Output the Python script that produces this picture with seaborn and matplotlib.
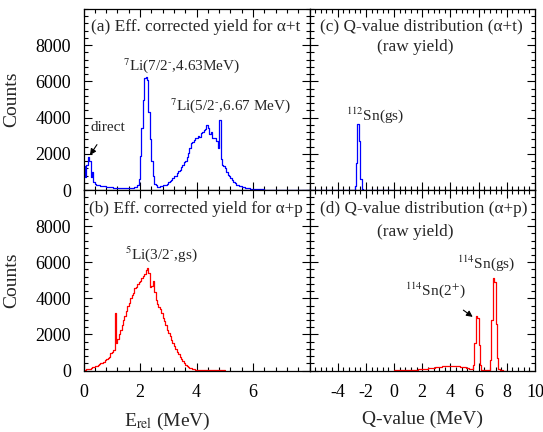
import numpy as np
import pandas as pd
import matplotlib
matplotlib.use('Agg')
import matplotlib.pyplot as plt
from matplotlib.ticker import MultipleLocator
import seaborn as sns

# ── DATA ──────────────────────────────────────────────────────────────────────
# relative energy spectra, 0.05 MeV bins starting at 0
E_BIN = 0.05
at_counts = [
    1300, 700, 1400, 1800, 1600, 700, 1000, 450, 350, 300, 280, 250, 230, 220, 240, 210, 190, 170, 160, 150,
    140, 130, 120, 110, 120, 100, 100, 90, 100, 90, 100, 110, 100, 120, 110, 130, 140, 160, 250, 600,
    1900, 3400, 5000, 6200, 6250, 6050, 4300, 2800, 1600, 800, 350, 250, 180, 170, 200, 220, 250, 260, 300, 350,
    420, 470, 550, 650, 750, 800, 950, 1050, 1100, 1250, 1400, 1550, 1600, 1800, 2050, 2300, 2600, 2650, 2750, 2850,
    2900, 3000, 2950, 3150, 3200, 3300, 3350, 3600, 3450, 3100, 3200, 2850, 2900, 2850, 2700, 2300, 3850, 1700, 1400, 1300,
    1200, 1000, 850, 750, 650, 550, 460, 380, 300, 250, 220, 200, 180, 150, 130, 120, 100, 90, 80, 70,
    60, 50, 45, 40, 40, 35, 30, 30, 25, 25, 20, 20, 20, 15, 15, 15, 15, 10, 10, 10,
    10, 10, 10, 10, 10, 5, 5, 5, 5, 5, 5, 5, 5, 5, 5, 5, 5, 5, 5, 5,
]
ap_counts = [
    20, 40, 60, 90, 110, 150, 180, 210, 240, 270, 300, 340, 390, 440, 490, 560, 630, 700, 760, 950,
    1050, 1150, 3200, 1500, 1750, 2000, 2250, 2500, 2800, 3000, 3300, 3550, 3750, 4000, 4200, 4300, 4550, 4650, 4800, 4900,
    4950, 5100, 5250, 5350, 5550, 5700, 5400, 4650, 4700, 4950, 4350, 3900, 3700, 3500, 3400, 3200, 2900, 2750, 2500, 2250,
    2050, 1900, 1700, 1550, 1350, 1200, 1050, 900, 750, 620, 500, 420, 330, 260, 210, 160, 120, 90, 70, 50,
    40, 35, 30, 25, 20, 20, 15, 15, 10, 10, 10, 10, 8, 8, 6, 6, 5, 5, 5, 5,
]

# Q-value spectra, 0.1 MeV bins
Q_BIN = 0.1
q_at_start = -6.0
q_at_counts = [
    0, 0, 0, 0, 0, 0, 0, 0, 0, 0,
    0, 0, 0, 0, 0, 0, 0, 0, 0, 0,
    0, 0, 0, 0, 0, 0, 0, 0, 0, 0,
    0, 10, 200, 1500, 3650, 2700, 600, 50, 0, 0,
    0, 0, 0, 0, 0, 0, 0, 0, 0, 0,
    0, 0, 0, 0, 0, 0, 0, 0, 0, 0,
]
q_ap_start = 0.0
q_ap_counts = [
    5, 5, 10, 10, 15, 15, 20, 20, 25, 30,
    30, 35, 40, 40, 45, 50, 55, 60, 70, 75,
    80, 90, 100, 110, 120, 130, 140, 150, 160, 175,
    185, 195, 205, 215, 225, 235, 245, 250, 260, 265,
    270, 270, 265, 260, 255, 245, 235, 220, 210, 190,
    170, 150, 120, 100, 70, 60, 300, 1500, 3000, 2900,
    1400, 300, 40, 10, 5, 5, 10, 50, 600, 2800,
    5150, 4900, 2600, 700, 100, 20, 5, 0, 0, 0,
]

e_ticks = [0, 2, 4, 6]
q_ticks = [-4, -2, 0, 2, 4, 6, 8, 10]
y_ticks = [0, 2000, 4000, 6000, 8000]
# ─────────────────────────────────────────────────────────────────────────────

sns.set_style('ticks')
plt.rcParams['font.family'] = ['Liberation Serif', 'DejaVu Serif']
plt.rcParams['mathtext.fontset'] = 'stix'
plt.rcParams['axes.unicode_minus'] = False


def draw_hist(ax, start, width, counts, color):
    counts = np.asarray(counts, dtype=float)
    edges = start + width * np.arange(len(counts) + 1)
    df = pd.DataFrame({'x': 0.5 * (edges[:-1] + edges[1:]), 'w': counts})
    sns.histplot(data=df, x='x', weights='w', bins=edges.tolist(), element='step',
                 fill=False, color=color, linewidth=0.9, ax=ax)


def style_axes(ax, xlim, xticks, show_x, show_y):
    ax.set_xlim(*xlim)
    ax.set_ylim(0, 10000)
    ax.set_xticks(xticks)
    ax.set_yticks(y_ticks)
    ax.xaxis.set_minor_locator(MultipleLocator(0.4))
    ax.yaxis.set_minor_locator(MultipleLocator(400))
    ax.tick_params(which='both', direction='in', top=True, right=True,
                   labelsize=13, width=0.8, colors='black')
    ax.tick_params(which='major', length=6)
    ax.tick_params(which='minor', length=3)
    ax.tick_params(axis='x', which='both', pad=10)
    ax.tick_params(axis='y', which='both', pad=9)
    if not show_x:
        ax.tick_params(labelbottom=False)
    if not show_y:
        ax.tick_params(labelleft=False)
    for s in ax.spines.values():
        s.set_linewidth(0.9)
        s.set_color('black')
    ax.set_xlabel('')
    ax.set_ylabel('')


fig = plt.figure(figsize=(5.43, 4.32), dpi=100)
W, H = 543, 432
def box(x0, y0, x1, y1):
    return [x0 / W, 1 - y1 / H, (x1 - x0) / W, (y1 - y0) / H]

ax_a = fig.add_axes(box(83.5, 9, 309.5, 190))
ax_c = fig.add_axes(box(309.5, 9, 535, 190))
ax_b = fig.add_axes(box(83.5, 190, 309.5, 370.5))
ax_d = fig.add_axes(box(309.5, 190, 535, 370.5))

draw_hist(ax_a, 0.0, E_BIN, at_counts, 'blue')
draw_hist(ax_b, 0.0, E_BIN, ap_counts, 'red')
draw_hist(ax_c, q_at_start, Q_BIN, q_at_counts, 'blue')
draw_hist(ax_d, q_ap_start, Q_BIN, q_ap_counts, 'red')

style_axes(ax_a, (0, 8), e_ticks, False, True)
style_axes(ax_b, (0, 8), e_ticks, True, True)
style_axes(ax_c, (-6, 10), q_ticks, False, False)
style_axes(ax_d, (-6, 10), q_ticks, True, False)

for ax in (ax_a, ax_b):
    ax.set_ylabel('Counts', fontsize=14)
    ax.yaxis.set_label_coords(-0.28, 0.5)
ax_b.set_xlabel(r'E$_{\rm rel}$ (MeV)', fontsize=14)
ax_b.xaxis.set_label_coords(0.37, -0.222)
ax_d.set_xlabel('Q-value (MeV)', fontsize=14)
ax_d.xaxis.set_label_coords(0.5, -0.222)

fs = 12.4
ax_a.text(0.035, 0.9, '(a) Eff. corrected yield for α+t', transform=ax_a.transAxes,
          ha='left', va='center', fontsize=fs)
ax_b.text(0.025, 0.895, '(b) Eff. corrected yield for α+p', transform=ax_b.transAxes,
          ha='left', va='center', fontsize=fs)
ax_c.text(0.048, 0.905, '(c) Q-value distribution (α+t)', transform=ax_c.transAxes,
          ha='left', va='center', fontsize=fs)
ax_c.text(0.47, 0.79, '(raw yield)', transform=ax_c.transAxes,
          ha='center', va='center', fontsize=fs)
ax_d.text(0.048, 0.895, '(d) Q-value distribution (α+p)', transform=ax_d.transAxes,
          ha='left', va='center', fontsize=fs)
ax_d.text(0.47, 0.77, '(raw yield)', transform=ax_d.transAxes,
          ha='center', va='center', fontsize=fs)

fs2 = 11
ax_a.text(3.46, 6850, r'$^{7}$Li(7/2$^{\text{-}}$,4.63MeV)', ha='center', va='center', fontsize=fs2)
ax_a.text(5.2, 4640, r'$^{7}$Li(5/2$^{\text{-}}$,6.67 MeV)', ha='center', va='center', fontsize=fs2)
ax_a.annotate('direct', xy=(0.23, 1930), xytext=(0.87, 3430), ha='center', va='center',
              fontsize=fs2,
              arrowprops=dict(arrowstyle='-|>', color='black', lw=0.8,
                              mutation_scale=9, shrinkA=6, shrinkB=0))
ax_b.text(2.74, 6440, r'$^{5}$Li(3/2$^{\text{-}}$,gs)', ha='center', va='center', fontsize=fs2)
ax_c.text(-1.31, 4140, r'$^{112}$Sn(gs)', ha='center', va='center', fontsize=fs2)
ax_d.text(6.5, 5940, r'$^{114}$Sn(gs)', ha='center', va='center', fontsize=fs2)
ax_d.annotate(r'$^{114}$Sn(2$^{+}$)', xy=(5.58, 2970), xytext=(2.91, 4475),
              ha='center', va='center', fontsize=fs2,
              arrowprops=dict(arrowstyle='-|>', color='black', lw=0.8,
                              mutation_scale=9, shrinkA=9, shrinkB=0))

fig.savefig('out.png', dpi=100)
